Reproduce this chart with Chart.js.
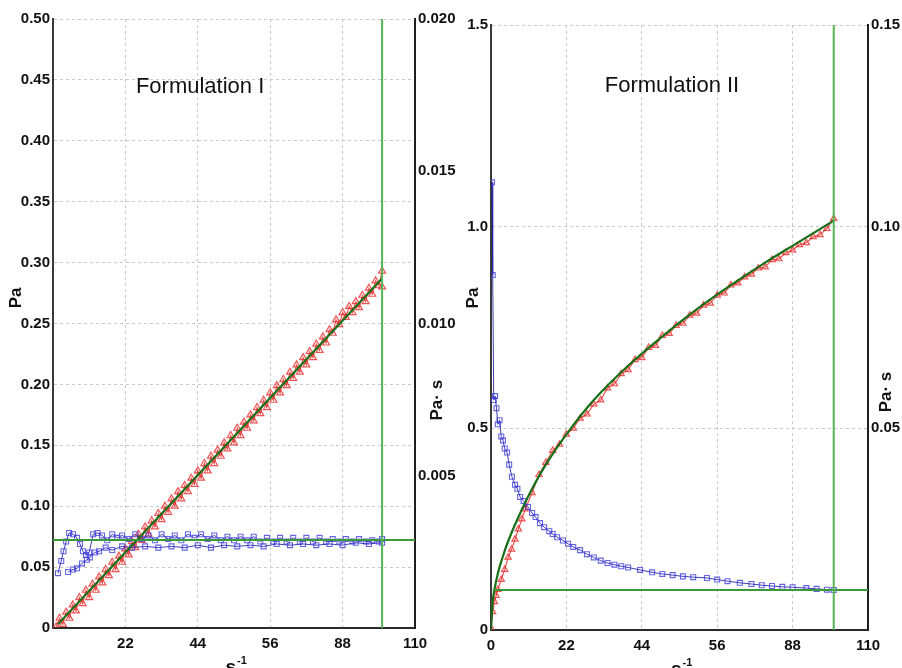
<!DOCTYPE html>
<html>
<head>
<meta charset="utf-8">
<script src="https://cdn.jsdelivr.net/npm/chart.js@4.4.1/dist/chart.umd.min.js"></script>
<style>
  html, body { margin: 0; padding: 0; background: #fff; }
  #wrap { position: relative; width: 902px; height: 668px; overflow: hidden; }
  .panel { position: absolute; top: 0; height: 668px; }
  #p1 { left: 0; width: 462px; }
  #p2 { left: 445px; width: 457px; }
</style>
</head>
<body>
<div id="wrap">
  <div class="panel" id="p1"><canvas id="chart1" width="462" height="668"></canvas></div>
  <div class="panel" id="p2"><canvas id="chart2" width="457" height="668"></canvas></div>
</div>
<script>
// shear rate tick labels as printed on the original axis
const xTickLabels = ['0', '22', '44', '56', '88', '110'];

// ---- Formulation I ----
const rateI = [1, 2, 3, 4, 5, 6, 7, 8, 9, 10, 11, 12, 13, 14, 15, 16, 17, 18, 19, 20, 21, 22, 23, 24, 25,
  26, 27, 28, 29, 30, 31, 32, 33, 34, 35, 36, 37, 38, 39, 40, 41, 42, 43, 44, 45, 46, 47, 48, 49, 50,
  51, 52, 53, 54, 55, 56, 57, 58, 59, 60, 61, 62, 63, 64, 65, 66, 67, 68, 69, 70, 71, 72, 73, 74, 75,
  76, 77, 78, 79, 80, 81, 82, 83, 84, 85, 86, 87, 88, 89, 90, 91, 92, 93, 94, 95, 96, 97, 98, 99, 100, 100];
const stressI = [0.001, 0.008, 0.003, 0.013, 0.008, 0.019, 0.014, 0.025, 0.020, 0.031, 0.025, 0.036, 0.031,
  0.042, 0.037, 0.048, 0.043, 0.054, 0.048, 0.059, 0.054, 0.065, 0.060, 0.071, 0.066, 0.077, 0.072, 0.083,
  0.077, 0.088, 0.083, 0.094, 0.089, 0.100, 0.095, 0.106, 0.100, 0.112, 0.106, 0.117, 0.112, 0.123, 0.118,
  0.129, 0.123, 0.135, 0.129, 0.141, 0.135, 0.146, 0.141, 0.152, 0.147, 0.158, 0.152, 0.164, 0.158, 0.169,
  0.164, 0.175, 0.170, 0.181, 0.176, 0.187, 0.181, 0.193, 0.187, 0.199, 0.193, 0.204, 0.199, 0.210, 0.205,
  0.216, 0.210, 0.222, 0.216, 0.227, 0.222, 0.233, 0.228, 0.239, 0.234, 0.245, 0.242, 0.253, 0.249, 0.259,
  0.255, 0.264, 0.259, 0.268, 0.263, 0.273, 0.268, 0.279, 0.274, 0.285, 0.281, 0.293, 0.280];
const viscRateI = [1.5, 2.5, 3.2, 4, 4.9, 6.1, 7.3, 8.2, 9.1, 10, 11, 12.2, 13.5, 14.9, 16.5, 18, 19.5, 21, 23,
  25, 27, 29, 31, 33, 35, 37, 39, 41, 43, 45, 47, 49, 51, 53, 55, 57, 59, 61, 63, 65, 67, 69, 71, 73, 75, 77,
  79, 81, 83, 85, 87, 89, 91, 93, 95, 97, 99, 100,
  100, 96, 92, 88, 84, 80, 76, 72, 68, 64, 60, 56, 52, 48, 44, 40, 36, 32, 28, 24, 21, 18, 16, 14, 12.8,
  11.2, 10.3, 8.8, 7.3, 6.1, 4.6];
const viscI = [0.00180, 0.00220, 0.00252, 0.00284, 0.00312, 0.00308, 0.00296, 0.00276, 0.00252, 0.00240,
  0.00248, 0.00308, 0.00312, 0.00304, 0.00288, 0.00308, 0.00296, 0.00304, 0.00292, 0.00308, 0.00292, 0.00304,
  0.00288, 0.00308, 0.00292, 0.00304, 0.00288, 0.00308, 0.00296, 0.00308, 0.00292, 0.00304, 0.00288, 0.00300,
  0.00288, 0.00300, 0.00288, 0.00300, 0.00284, 0.00296, 0.00284, 0.00296, 0.00284, 0.00296, 0.00284, 0.00296,
  0.00284, 0.00296, 0.00284, 0.00292, 0.00284, 0.00292, 0.00284, 0.00292, 0.00284, 0.00288, 0.00284, 0.00292,
  0.00280, 0.00276, 0.00280, 0.00272, 0.00276, 0.00272, 0.00276, 0.00272, 0.00276, 0.00268, 0.00272, 0.00268,
  0.00272, 0.00264, 0.00272, 0.00264, 0.00268, 0.00264, 0.00268, 0.00264, 0.00268, 0.00256, 0.00264, 0.00252,
  0.00248, 0.00232, 0.00224, 0.00212, 0.00196, 0.00192, 0.00184];
const fitRateI = [1.5, 100];
const fitStressI = [0.003, 0.287];
const viscLevelI = 0.00289;

// ---- Formulation II ----
const rateII = [0, 0.5, 1, 1.5, 2, 3, 4, 5, 6, 7, 8, 9, 10, 12, 14, 16, 18, 20, 22, 24, 26, 28, 30, 32, 34,
  36, 38, 40, 42, 44, 46, 48, 50, 52, 54, 56, 58, 60, 62, 64, 66, 68, 70, 72, 74, 76, 78, 80, 82, 84, 86, 88,
  90, 92, 94, 96, 98, 100];
const stressII = [0.005, 0.045, 0.07, 0.085, 0.10, 0.125, 0.15, 0.18, 0.20, 0.225, 0.25, 0.275, 0.30, 0.34,
  0.385, 0.415, 0.445, 0.46, 0.485, 0.50, 0.525, 0.535, 0.56, 0.57, 0.60, 0.61, 0.635, 0.645, 0.67, 0.675,
  0.70, 0.705, 0.73, 0.735, 0.755, 0.76, 0.78, 0.785, 0.805, 0.81, 0.83, 0.835, 0.855, 0.86, 0.875, 0.882,
  0.897, 0.90, 0.918, 0.92, 0.935, 0.942, 0.955, 0.96, 0.975, 0.98, 0.995, 1.02];
const viscRateII = [0.3, 0.5, 0.8, 1.2, 1.6, 2, 2.5, 3, 3.5, 4, 4.7, 5.3, 6.1, 7, 7.7, 8.5, 9.5, 10.8, 12, 13,
  14.3, 15.5, 17, 18, 19.3, 21, 22.5, 24, 26, 28, 30, 32, 34, 36, 38, 40, 43.5, 47, 50, 53, 56, 59, 63, 66,
  69, 72.6, 76, 79, 82, 85, 88, 92, 95, 98, 100];
const viscII = [0.111, 0.088, 0.057, 0.058, 0.055, 0.051, 0.052, 0.048, 0.047, 0.045, 0.044, 0.041, 0.038,
  0.036, 0.035, 0.033, 0.032, 0.0305, 0.029, 0.028, 0.0265, 0.0255, 0.0245, 0.0238, 0.023, 0.0222, 0.0214,
  0.0206, 0.0198, 0.0188, 0.0180, 0.0172, 0.0166, 0.0162, 0.0158, 0.0155, 0.0149, 0.0143, 0.0139, 0.0136,
  0.0133, 0.0131, 0.0129, 0.0125, 0.0121, 0.0117, 0.0114, 0.0111, 0.0109, 0.0107, 0.0106, 0.0104, 0.0102,
  0.0100, 0.0099];
const fitRateII = [0, 0.5, 1, 2, 3, 5, 8, 12, 16, 22, 30, 40, 50, 60, 70, 80, 90, 100];
const fitStressII = [0, 0.07, 0.1, 0.14, 0.17, 0.22, 0.28, 0.35, 0.41, 0.485, 0.57, 0.655, 0.728, 0.795,
  0.855, 0.911, 0.963, 1.015];
const viscLevelII = 0.0099;

const limitRate = 100;

const FONT = '"Liberation Sans", Arial, sans-serif';
const zip = (xs, ys) => xs.map((x, i) => ({x: x, y: ys[i]}));

const panelText = {
  id: 'panelText',
  afterDraw(chart, args, o) {
    const {ctx, chartArea: a, scales} = chart;
    ctx.save();
    ctx.fillStyle = '#111';
    ctx.textAlign = 'center';
    ctx.textBaseline = 'middle';
    ctx.font = '22px ' + FONT;
    ctx.fillText(o.title, scales.x.getPixelForValue(o.titleAt[0]), scales.y.getPixelForValue(o.titleAt[1]));

    ctx.font = 'bold 17px ' + FONT;
    ctx.save();
    ctx.translate(a.left - o.leftGap, scales.y.getPixelForValue(o.paAt));
    ctx.rotate(-Math.PI / 2);
    ctx.fillText('Pa', 0, 0);
    ctx.restore();
    ctx.save();
    ctx.translate(a.right + o.rightGap, scales.y.getPixelForValue(o.pasAt));
    ctx.rotate(-Math.PI / 2);
    ctx.fillText('Pa\u00b7 s', 0, 0);
    ctx.restore();

    const cx = (a.left + a.right) / 2;
    ctx.textBaseline = 'alphabetic';
    ctx.textAlign = 'right';
    ctx.font = 'bold 19px ' + FONT;
    ctx.fillText('s', cx + 2, a.bottom + 45);
    ctx.textAlign = 'left';
    ctx.font = 'bold 11px ' + FONT;
    ctx.fillText('-1', cx + 3, a.bottom + 36);
    ctx.restore();
  }
};

function makePanel(id, p) {
  const tickFont = {family: FONT, size: 15, weight: 'bold'};
  return new Chart(document.getElementById(id), {
    type: 'scatter',
    data: {
      datasets: [
        {data: zip([limitRate, limitRate], [0, p.yMax]), showLine: true, borderColor: '#55b555',
          borderWidth: 2, pointRadius: 0, yAxisID: 'y'},
        {data: zip([p.hStart, 110], [p.viscLevel, p.viscLevel]), showLine: true, borderColor: '#3a9a3a',
          borderWidth: 2, pointRadius: 0, yAxisID: 'y1'},
        {data: zip(p.fitRate, p.fitStress), showLine: true, borderColor: '#176f17', borderWidth: 2.2,
          pointRadius: 0, tension: 0.4, yAxisID: 'y'},
        {data: zip(p.viscRate, p.visc), showLine: true, borderColor: 'rgba(30,30,170,0.85)', borderWidth: 1,
          pointStyle: 'rect', pointRadius: 3.5, pointBorderColor: 'rgba(60,60,220,0.8)', pointBorderWidth: 1.1,
          pointBackgroundColor: 'rgba(255,255,255,0)', yAxisID: 'y1'},
        {data: zip(p.rate, p.stress), showLine: true, borderColor: 'rgba(225,30,30,0.8)', borderWidth: 1.1,
          pointStyle: 'triangle', pointRadius: p.redR, pointBorderColor: 'rgba(235,40,40,0.8)',
          pointBorderWidth: 1.2, pointBackgroundColor: 'rgba(255,255,255,0)', yAxisID: 'y'}
      ]
    },
    options: {
      responsive: false,
      animation: false,
      layout: {padding: {top: p.top, left: 0, right: 0, bottom: 0}},
      plugins: {legend: {display: false}, tooltip: {enabled: false}, panelText: p.text},
      scales: {
        x: {
          type: 'linear', min: 0, max: 110,
          afterFit: s => { s.height = p.xHeight; },
          ticks: {stepSize: 22, padding: 7, color: '#111', font: tickFont, maxRotation: 0,
            callback: v => (v === 0 && !p.showZeroX) ? '' : xTickLabels[Math.round(v / 22)]},
          grid: {color: '#c9c9c9', lineWidth: 1, drawTicks: false},
          border: {display: true, color: '#2a2a2a', width: 2, dash: [3, 3]}
        },
        y: {
          position: 'left', min: 0, max: p.yMax,
          afterFit: s => { s.width = p.leftW; },
          ticks: {stepSize: p.yStep, padding: 3, color: '#111', font: tickFont,
            callback: v => v === 0 ? '0' : v.toFixed(p.yDec)},
          grid: {color: '#c9c9c9', lineWidth: 1, drawTicks: false},
          border: {display: true, color: '#3a3a3a', width: 2, dash: [3, 3]}
        },
        y1: {
          position: 'right', min: 0, max: p.y1Max,
          afterFit: s => { s.width = p.rightW; },
          ticks: {stepSize: p.y1Step, padding: 3, color: '#111', font: tickFont,
            callback: v => v === 0 ? '' : v.toFixed(p.y1Dec)},
          grid: {display: false, drawTicks: false},
          border: {display: true, color: '#1e1e1e', width: 2}
        }
      }
    },
    plugins: [panelText]
  });
}

makePanel('chart1', {
  rate: rateI, stress: stressI, viscRate: viscRateI, visc: viscI,
  fitRate: fitRateI, fitStress: fitStressI, viscLevel: viscLevelI, hStart: 0, redR: 4,
  yMax: 0.5, yStep: 0.05, yDec: 2, y1Max: 0.02, y1Step: 0.005, y1Dec: 3,
  top: 19, leftW: 53, rightW: 47, xHeight: 40, showZeroX: false,
  text: {title: 'Formulation I', titleAt: [44.7, 0.444], leftGap: 37, paAt: 0.271, rightGap: 22, pasAt: 0.187}
});

makePanel('chart2', {
  rate: rateII, stress: stressII, viscRate: viscRateII, visc: viscII,
  fitRate: fitRateII, fitStress: fitStressII, viscLevel: viscLevelII, hStart: 0.5, redR: 3.6,
  yMax: 1.5, yStep: 0.5, yDec: 1, y1Max: 0.15, y1Step: 0.05, y1Dec: 2,
  top: 25, leftW: 46, rightW: 34, xHeight: 38, showZeroX: true,
  text: {title: 'Formulation II', titleAt: [52.8, 1.349], leftGap: 18, paAt: 0.823, rightGap: 18, pasAt: 0.59}
});
</script>
</body>
</html>
